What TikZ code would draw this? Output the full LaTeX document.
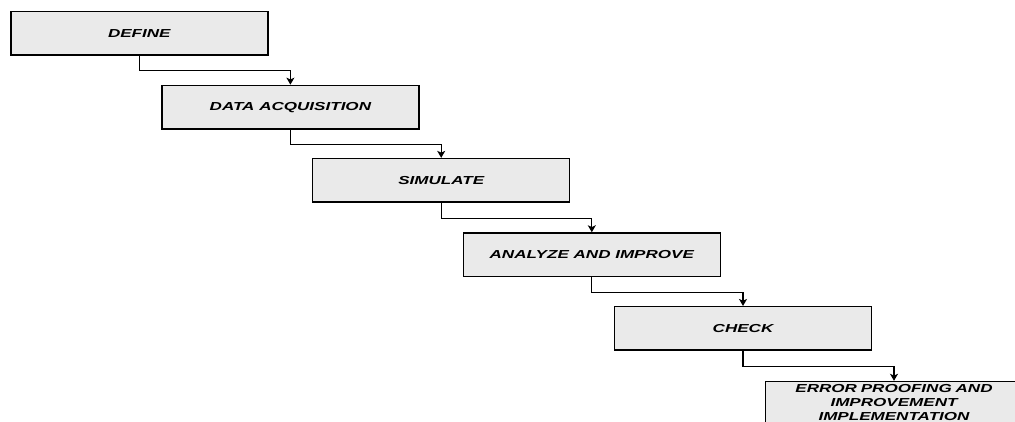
\documentclass[tikz,border=0pt]{standalone}
\usepackage{fontspec}
\newfontfamily\boxfont[FakeStretch=1.47]{Liberation Sans}
\usetikzlibrary{arrows.meta}
\definecolor{boxgray}{RGB}{234,234,234}
\begin{document}
\begin{tikzpicture}[x=1pt,y=-1pt,
  stepbox/.style={draw=black, line width=1.4pt, fill=boxgray,
    minimum width=257pt, minimum height=43.5pt, inner sep=1.5pt,
    font=\boxfont\fontsize{11.6pt}{14.2pt}\selectfont\bfseries\itshape},
  link/.style={draw=black, line width=1.2pt, -{Stealth[length=7pt,width=8pt,inset=1.8pt]}}]
\useasboundingbox (0,0) rectangle (1015,421);
\clip (0,0) rectangle (1015,421);
\node[stepbox] (b1) at (139.3,33.3) {DEFINE};
\node[stepbox] (b2) at (290.4,107.1) {DATA ACQUISITION};
\node[stepbox] (b3) at (441.2,180.3) {SIMULATE};
\node[stepbox] (b4) at (591.8,254.7) {ANALYZE AND IMPROVE};
\node[stepbox] (b5) at (743.0,328.4) {CHECK};
\node[stepbox, anchor=north, align=center, text width=250pt, minimum height=0pt,
  text height=9.5pt, text depth=45pt] (b6) at (894,380.8)
  {ERROR PROOFING AND\\IMPROVEMENT\\IMPLEMENTATION};
\draw[link] (b1.south) -- ++(0,15) -| (b2.north);
\draw[link] (b2.south) -- ++(0,15) -| (b3.north);
\draw[link] (b3.south) -- ++(0,15.5) -| (b4.north);
\draw[link] (b4.south) -- ++(0,15) -| (b5.north);
\draw[link] (b5.south) -- ++(0,15.5) -| (b6.north);
\end{tikzpicture}
\end{document}
